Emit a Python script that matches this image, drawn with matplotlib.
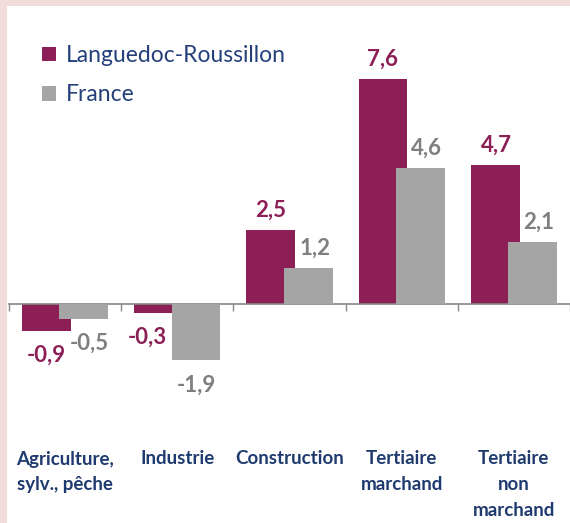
import matplotlib
matplotlib.use("Agg")
import matplotlib.pyplot as plt
import matplotlib.transforms as mtransforms
from matplotlib.patches import Rectangle, Patch

# data
categories = ["Agriculture,\nsylv., pêche", "Industrie", "Construction",
              "Tertiaire\nmarchand", "Tertiaire\nnon\nmarchand"]
languedoc = [-0.9, -0.3, 2.5, 7.6, 4.7]
france = [-0.5, -1.9, 1.2, 4.6, 2.1]
series_names = ["Languedoc-Roussillon", "France"]

# style
MAGENTA = "#8C1F55"
GREY = "#A5A5A5"
GREY_TXT = "#7F7F7F"
NAVY = "#24407A"
PINK = "#F2DCDB"
plt.rcParams["font.family"] = ["Lato", "DejaVu Sans"]

# small label nudges (pixels), like the original Excel placement
lr_dx = [0, -11, 0, 0, 1]
fr_dx = [5, 0, 7, 6, 6]

W, H = 570, 523
fig = plt.figure(figsize=(W / 100, H / 100), dpi=100, facecolor=PINK)
fig.patches.append(Rectangle((7 / W, 0), 1 - 7 / W, (H - 6) / H,
                             transform=fig.transFigure, facecolor="white",
                             edgecolor="none", zorder=-10))

# axes geometry in pixels: left 9, 114 px per category, baseline at y=304
px_unit = 29.6
ax_top, ax_bot = 20, 430
ax = fig.add_axes([9 / W, (H - ax_bot) / H, (W - 9) / W, (ax_bot - ax_top) / H])
ax.set_facecolor("none")
ax.set_xlim(-0.5, (W - 9) / 114 - 0.5)
ax.set_ylim(-(ax_bot - 304) / px_unit, (304 - ax_top) / px_unit)

x = list(range(len(categories)))
off, bw = 0.167, 0.435
ax.bar([i - off for i in x], languedoc, width=bw, color=MAGENTA, zorder=2)
ax.bar([i + off for i in x], france, width=bw, color=GREY, zorder=3)

# value labels
def put_label(xpos, val, dx, color):
    dy = 9.8 if val >= 0 else -22.5
    tr = ax.transData + mtransforms.ScaledTranslation(dx / 100, dy / 72, fig.dpi_scale_trans)
    ax.text(xpos, val, f"{val:.1f}".replace(".", ","), transform=tr,
            ha="center", va="baseline", fontsize=16, fontweight="bold",
            color=color, zorder=4)

for i in x:
    put_label(i - off, languedoc[i], lr_dx[i], MAGENTA)
    put_label(i + off, france[i], fr_dx[i], GREY_TXT)

# axis line at zero with boundary ticks
for s in ["top", "right", "left"]:
    ax.spines[s].set_visible(False)
ax.spines["bottom"].set_position(("data", 0))
ax.spines["bottom"].set_color("#868686")
ax.spines["bottom"].set_linewidth(1.2)
ax.set_yticks([])
ax.set_xticks([i - 0.5 for i in range(len(categories) + 1)])
ax.set_xticklabels([])
ax.tick_params(axis="x", length=5, width=1, color="#868686", direction="out")

# category labels
for i, lab in enumerate(categories):
    ax.text(i, -0.05, lab, transform=ax.get_xaxis_transform(), ha="center",
            va="top", multialignment="center", fontsize=13.5, fontweight="bold",
            color="#1F3A6E", linespacing=1.62)

handles = [Patch(facecolor=MAGENTA), Patch(facecolor=GREY)]
leg = ax.legend(handles, series_names, loc="upper left",
                bbox_to_anchor=(42 / W, (H - 45) / H), bbox_transform=fig.transFigure,
                frameon=False, fontsize=16.5, handlelength=0.6, handleheight=0.6,
                handletextpad=0.45, labelspacing=0.8, borderaxespad=0, borderpad=0)
for t in leg.get_texts():
    t.set_color(NAVY)

fig.savefig("out.png", dpi=100, facecolor=PINK)
